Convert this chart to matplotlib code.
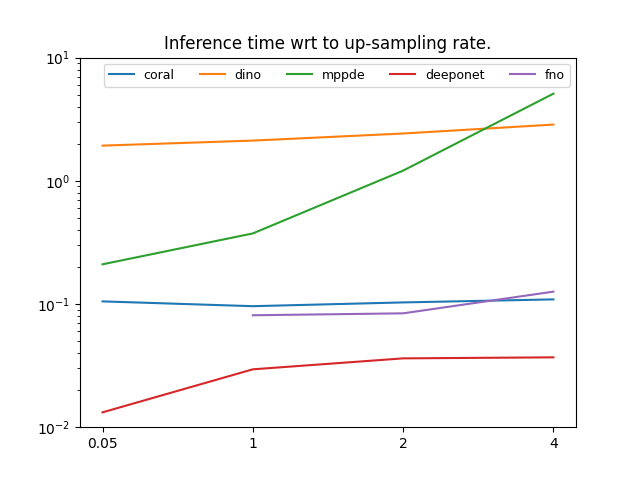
import numpy as np
import matplotlib
matplotlib.use("Agg")
from matplotlib import pyplot as plt

rates = ["0.05", "1", "2", "4"]
coral = [0.105, 0.096, 0.103, 0.109]
dino = [1.93, 2.12, 2.42, 2.86]
mppde = [0.21, 0.374, 1.21, 5.1]
deeponet = [0.0132, 0.0295, 0.0362, 0.0369]
fno = [np.nan, 0.081, 0.084, 0.126]

fig, ax = plt.subplots(figsize=(6.4, 4.8), dpi=100)
x = np.arange(len(rates))
ax.plot(x, coral, label="coral")
ax.plot(x, dino, label="dino")
ax.plot(x, mppde, label="mppde")
ax.plot(x, deeponet, label="deeponet")
ax.plot(x, fno, label="fno")
ax.set_yscale("log")
ax.set_ylim(1e-2, 1e1)
ax.set_xticks(x)
ax.set_xticklabels(rates)
ax.set_title("Inference time wrt to up-sampling rate.")
ax.legend(ncol=5, loc="upper right", fontsize=9)
fig.savefig("out.png")
